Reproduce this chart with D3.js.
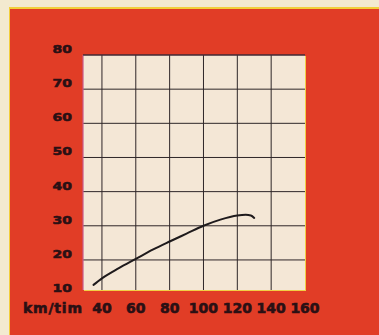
<!DOCTYPE html>
<html>
<head>
<meta charset="utf-8">
<script src="https://cdnjs.cloudflare.com/ajax/libs/d3/7.8.5/d3.min.js"></script>
<style>
  html, body { margin: 0; padding: 0; background: #f3ead0; }
  svg { display: block; }
</style>
</head>
<body>
<div id="chart"></div>
<script>
var speeds = [35, 40, 50, 60, 70, 80, 90, 100, 110, 120, 125, 128, 130];
var values = [12.7, 14.6, 17.6, 20.3, 23.0, 25.4, 27.7, 30.0, 31.8, 33.0, 33.2, 33.0, 32.3];

var xTicks = [40, 60, 80, 100, 120, 140, 160];
var yTicks = [10, 20, 30, 40, 50, 60, 70, 80];
var xUnit = "km/tim";

var width = 379,
  height = 335;

var svg = d3.select("#chart").append("svg")
  .attr("width", width)
  .attr("height", height);

// cream page + red panel
svg.append("rect")
  .attr("width", width).attr("height", height)
  .attr("fill", "#f3ead0");
svg.append("rect")
  .attr("x", 9).attr("y", 7)
  .attr("width", width - 9).attr("height", height - 7)
  .attr("fill", "#f2cf3a");
svg.append("rect")
  .attr("x", 10).attr("y", 9)
  .attr("width", width - 10).attr("height", height - 9)
  .attr("fill", "#e13d26");

var x = d3.scaleLinear().domain([28.8, 160]).range([83, 305]);
var y = d3.scaleLinear().domain([11.2, 80]).range([290, 55]);

var plot = svg.append("g");

// plot background, yellow edge at right/bottom
plot.append("rect")
  .attr("x", x(28.8) + 1).attr("y", y(80) + 1)
  .attr("width", x(160) - x(28.8)).attr("height", y(11.2) - y(80))
  .attr("fill", "#f1cf45");
plot.append("rect")
  .attr("x", x(28.8)).attr("y", y(80))
  .attr("width", x(160) - x(28.8)).attr("height", y(11.2) - y(80))
  .attr("fill", "#f4e7d6");

// grid
plot.append("g")
  .selectAll("line")
  .data(xTicks.slice(0, -1))
  .join("line")
  .attr("x1", d => x(d)).attr("x2", d => x(d))
  .attr("y1", y(80)).attr("y2", y(11.2))
  .attr("stroke", "#2e2628").attr("stroke-width", 1);

plot.append("g")
  .selectAll("line")
  .data(yTicks.slice(1))
  .join("line")
  .attr("x1", x(28.8)).attr("x2", x(160))
  .attr("y1", d => y(d)).attr("y2", d => y(d))
  .attr("stroke", "#2e2628").attr("stroke-width", 1);

// left edge (pinkish misprint) and top edge
plot.append("line")
  .attr("x1", x(28.8)).attr("x2", x(28.8))
  .attr("y1", y(80)).attr("y2", y(11.2))
  .attr("stroke", "#c85a8a").attr("stroke-width", 1.2);
plot.append("line")
  .attr("x1", x(28.8)).attr("x2", x(160))
  .attr("y1", y(80)).attr("y2", y(80))
  .attr("stroke", "#4a2a3a").attr("stroke-width", 1.2);

// the curve
var line = d3.line()
  .x((d, i) => x(speeds[i]))
  .y(d => y(d))
  .curve(d3.curveMonotoneX);

plot.append("path")
  .datum(values)
  .attr("d", line)
  .attr("fill", "none")
  .attr("stroke", "#1e1a1c")
  .attr("stroke-width", 2)
  .attr("stroke-linecap", "round");

// y labels
svg.append("g")
  .selectAll("text")
  .data(yTicks)
  .join("text")
  .attr("transform", d => `translate(72,${y(d) - 6}) scale(1,0.8)`)
  .attr("text-anchor", "end")
  .attr("dominant-baseline", "central")
  .attr("font-family", "DejaVu Sans")
  .attr("font-weight", "bold")
  .attr("font-size", 14)
  .attr("fill", "#2a1014")
  .attr("stroke", "#2a1014")
  .attr("stroke-width", 0.7)
  .text(d => d);

// x labels
svg.append("g")
  .selectAll("text")
  .data(xTicks)
  .join("text")
  .attr("x", d => x(d))
  .attr("y", 313)
  .attr("text-anchor", "middle")
  .attr("font-family", "DejaVu Sans")
  .attr("font-weight", "bold")
  .attr("font-size", 14)
  .attr("fill", "#2a1014")
  .attr("stroke", "#2a1014")
  .attr("stroke-width", 0.6)
  .text(d => d);

svg.append("text")
  .attr("x", 23)
  .attr("y", 313)
  .attr("font-family", "DejaVu Sans")
  .attr("font-weight", "bold")
  .attr("font-size", 14)
  .attr("textLength", 59)
  .attr("fill", "#2a1014")
  .attr("stroke", "#2a1014")
  .attr("stroke-width", 0.6)
  .text(xUnit);
</script>
</body>
</html>
